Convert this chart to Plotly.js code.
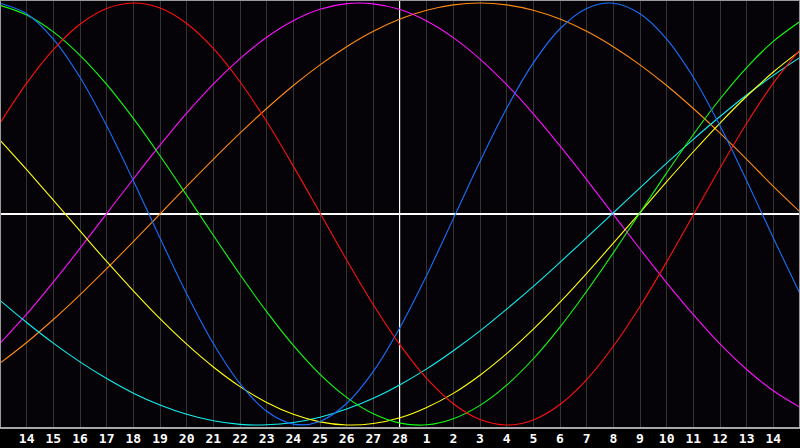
<!DOCTYPE html>
<html>
<head>
<meta charset="utf-8">
<script src="https://cdn.plot.ly/plotly-3.0.1.min.js"></script>
<style>html,body{margin:0;padding:0;background:#000;}#chart{width:800px;height:448px;}</style>
</head>
<body>
<div id="chart"></div>
<script>
// Day positions (0 = left edge of chart, 30 = right edge)
const dayIndex = [0,1,2,3,4,5,6,7,8,9,10,11,12,13,14,15,16,17,18,19,20,21,22,23,24,25,26,27,28,29,30];
// Tick labels shown under the grid lines (positions 1..29)
const tickPositions = [1,2,3,4,5,6,7,8,9,10,11,12,13,14,15,16,17,18,19,20,21,22,23,24,25,26,27,28,29];
const tickLabels = ["14","15","16","17","18","19","20","21","22","23","24","25","26","27","28",
                    "1","2","3","4","5","6","7","8","9","10","11","12","13","14"];
const todayPosition = 15;

// Cycle values (-1 .. 1)
const physical = [0.999,0.949,0.829,0.648,0.418,0.158,-0.114,-0.378,-0.614,-0.804,-0.935,-0.996,-0.983,-0.898,-0.746,-0.538,-0.291,-0.022,0.249,0.501,0.716,0.878,0.974,0.999,0.949,0.829,0.648,0.418,0.158,-0.114,-0.378];
const emotional = [0.430,0.620,0.779,0.899,0.974,1.000,0.976,0.903,0.785,0.627,0.438,0.227,0.005,-0.218,-0.430,-0.620,-0.779,-0.899,-0.974,-1.000,-0.976,-0.903,-0.785,-0.627,-0.438,-0.227,-0.005,0.218,0.430,0.620,0.779];
const intellectual = [0.989,0.943,0.863,0.752,0.614,0.453,0.276,0.089,-0.101,-0.287,-0.463,-0.623,-0.760,-0.869,-0.947,-0.991,-0.999,-0.970,-0.907,-0.811,-0.686,-0.536,-0.366,-0.184,0.006,0.195,0.377,0.545,0.694,0.818,0.912];
const intuitive = [-0.613,-0.475,-0.323,-0.163,0.002,0.166,0.326,0.478,0.616,0.736,0.838,0.916,0.970,0.997,0.996,0.969,0.915,0.836,0.734,0.613,0.475,0.323,0.163,-0.002,-0.166,-0.326,-0.477,-0.616,-0.737,-0.838,-0.916];
const aesthetic = [0.350,0.210,0.066,-0.080,-0.225,-0.364,-0.496,-0.617,-0.725,-0.818,-0.893,-0.949,-0.985,-1.000,-0.993,-0.966,-0.917,-0.850,-0.764,-0.662,-0.546,-0.418,-0.281,-0.138,0.007,0.153,0.295,0.431,0.558,0.673,0.773];
const awareness = [-0.707,-0.609,-0.500,-0.383,-0.259,-0.131,0.000,0.131,0.259,0.383,0.500,0.609,0.707,0.793,0.866,0.924,0.966,0.991,1.000,0.991,0.966,0.924,0.866,0.793,0.707,0.609,0.500,0.383,0.259,0.131,0.010];
const spiritual = [-0.409,-0.514,-0.612,-0.701,-0.780,-0.849,-0.905,-0.949,-0.980,-0.997,-0.999,-0.988,-0.963,-0.924,-0.873,-0.809,-0.734,-0.648,-0.554,-0.451,-0.343,-0.229,-0.112,0.006,0.124,0.241,0.354,0.462,0.564,0.657,0.742];

const seriesList = [
  {name:"Awareness", y: awareness, color:"#ff8a10"},
  {name:"Intuitive", y: intuitive, color:"#ff10ff"},
  {name:"Spiritual", y: spiritual, color:"#10f0f0"},
  {name:"Aesthetic", y: aesthetic, color:"#ffff10"},
  {name:"Intellectual", y: intellectual, color:"#10ff10"},
  {name:"Physical", y: physical, color:"#1870ff"},
  {name:"Emotional", y: emotional, color:"#ff1010"}
];

const traces = seriesList.map(s => ({
  x: dayIndex, y: s.y, name: s.name, type: "scatter", mode: "lines",
  line: {color: s.color, width: 1.1, shape: "spline", smoothing: 1},
  hoverinfo: "skip"
}));

const layout = {
  width: 800, height: 448,
  margin: {l: 0, r: 0, t: 0, b: 20, pad: 0},
  paper_bgcolor: "#000000",
  plot_bgcolor: "#050308",
  showlegend: false,
  xaxis: {
    range: [0, 30], fixedrange: true,
    tickmode: "array", tickvals: tickPositions, ticktext: tickLabels,
    showgrid: true, gridcolor: "#343434", gridwidth: 1,
    zeroline: false, showline: false, ticks: "", ticklabelstandoff: 1,
    tickfont: {family: "DejaVu Sans Mono", size: 13, color: "#ffffff", weight: "bold"}
  },
  yaxis: {
    range: [-1.0142, 1.0142], fixedrange: true,
    showgrid: false, showticklabels: false, ticks: "",
    zeroline: true, zerolinecolor: "#ffffff", zerolinewidth: 2, showline: false
  },
  shapes: [
    {type: "line", xref: "x", yref: "paper", x0: todayPosition, x1: todayPosition, y0: 0, y1: 1,
     line: {color: "#ffffff", width: 2}, layer: "below"},
    {type: "line", xref: "paper", yref: "paper", x0: 0, x1: 0, y0: 0, y1: 1, line: {color: "#9a9a9a", width: 2}},
    {type: "line", xref: "paper", yref: "paper", x0: 1, x1: 1, y0: 0, y1: 1, line: {color: "#9a9a9a", width: 2}},
    {type: "line", xref: "paper", yref: "paper", x0: 0, x1: 1, y0: 1, y1: 1, line: {color: "#9a9a9a", width: 2}},
    {type: "line", xref: "paper", yref: "paper", x0: 0, x1: 1, y0: 0, y1: 0, line: {color: "#a8a8a8", width: 2}}
  ]
};

Plotly.newPlot("chart", traces, layout, {staticPlot: true, displayModeBar: false});
</script>
</body>
</html>
